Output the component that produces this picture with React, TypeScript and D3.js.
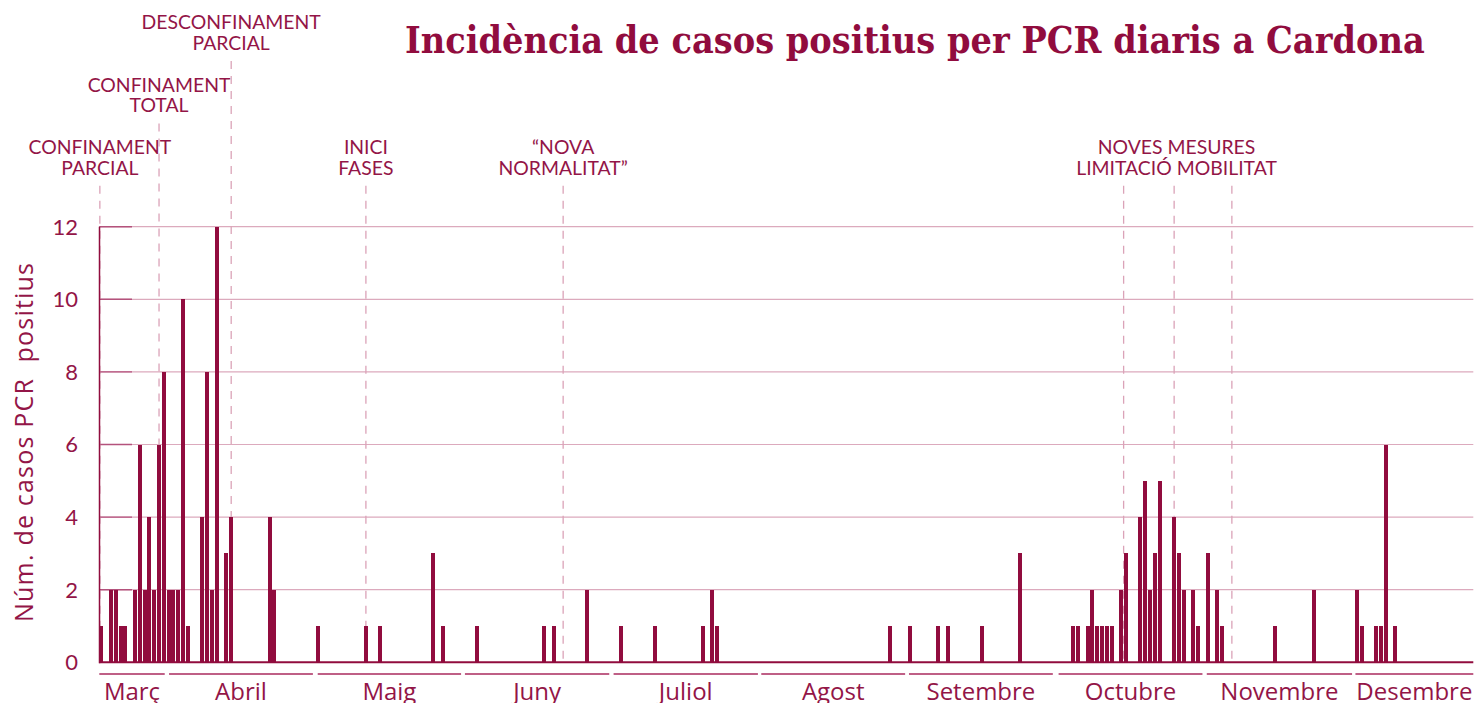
import React from "react";
import * as d3 from "d3";

// Day index (0 = first day of the series) and daily positive PCR cases
const caseDays = [
  0, 2, 3, 4, 5, 7, 8, 9, 10, 11, 12, 13, 14, 15, 16, 17, 18, 21, 22, 23, 24, 26, 27,
  35, 36, 45, 55, 58, 69, 71, 78, 92, 94, 101, 108,
  115, 125, 127, 128, 164, 168, 174, 176, 183, 191,
  202, 203, 205, 206, 207, 208, 209, 210, 212, 213, 216, 217, 218, 219, 220, 223, 224, 225, 227, 228, 230, 232, 233,
  244, 252, 261, 262, 265, 266, 267, 269,
];
const caseValues = [
  1, 2, 2, 1, 1, 2, 6, 2, 4, 2, 6, 8, 2, 2, 2, 10, 1, 4, 8, 2, 12, 3, 4,
  4, 2, 1, 1, 1, 3, 1, 1, 1, 1, 2, 1,
  1, 1, 2, 1, 1, 1, 1, 1, 1, 3,
  1, 1, 1, 2, 1, 1, 1, 1, 2, 3, 4, 5, 2, 3, 5, 4, 3, 2, 2, 1, 3, 2, 1,
  1, 2, 2, 1, 1, 1, 6, 1,
];

const dayDomain = [0, 285.6];

const monthNames = ["Març", "Abril", "Maig", "Juny", "Juliol", "Agost", "Setembre", "Octubre", "Novembre", "Desembre"];
const monthStart = [0, 14.5, 45.4, 76.0, 106.9, 137.6, 168.3, 199.4, 230.2, 261.1];
const monthEnd = [13.6, 44.4, 75.2, 106.0, 136.9, 167.5, 198.2, 229.3, 260.4, 285.6];

const yTicks = [0, 2, 4, 6, 8, 10, 12];

// Events: day of dashed line, label lines, label tier (0 = lowest row)
const eventDays = [-0.3, 12, 27, 55, 96];
const eventLabels = [
  ["CONFINAMENT", "PARCIAL"],
  ["CONFINAMENT", "TOTAL"],
  ["DESCONFINAMENT", "PARCIAL"],
  ["INICI", "FASES"],
  ["“NOVA", "NORMALITAT”"],
];
const eventTiers = [0, 1, 2, 0, 0];
const mesuresDays = [212.5, 223, 235];
const mesuresLabel = ["NOVES MESURES", "LIMITACIÓ MOBILITAT"];

const title = "Incidència de casos positius per PCR diaris a Cardona";
const yLabel = "Núm. de casos PCR  positius";

const DARK = "#910c3e";
const TEXT = "#931547";
const GRID = "#dcaabd";
const TICKDARK = "#b4527c";
const DASH = "#dba3b8";
const MONTHLINE = "#bf5f86";

export default function App() {
  const titleRef = React.useRef<SVGTextElement | null>(null);
  const [titleScale, setTitleScale] = React.useState(1);
  React.useLayoutEffect(() => {
    if (titleRef.current) {
      const w = titleRef.current.getComputedTextLength();
      if (w > 0) setTitleScale(1020 / w);
    }
  }, []);

  const x = d3.scaleLinear().domain(dayDomain).range([99.3, 1473.3]);
  const y = d3.scaleLinear().domain([0, 12]).range([662.3, 226.7]);
  const barW = 4;
  const data = d3.zip(caseDays, caseValues);
  const tierBaseline = [154, 91.7, 29.3];
  const lineGap = 20.7;
  const font = "Lato, 'Open Sans', sans-serif";
  const font2 = "'Open Sans', Lato, sans-serif";
  const annSize = 19.4;
  const mesuresCenter = d3.mean(mesuresDays.map((d) => x(d) + 2)) as number;

  return (
    <svg
      width={1480}
      height={703}
      style={{ position: "absolute", left: 0, top: 0, display: "block", background: "#fff" }}
    >
      <g transform={`translate(405,53) scale(${titleScale},1)`}>
        <text
          ref={titleRef}
          x={0}
          y={0}
          fontFamily="'DejaVu Serif', 'Liberation Serif', serif"
          fontWeight="bold"
          fontSize={38}
          fill={DARK}
        >
          {title}
        </text>
      </g>

      {/* gridlines */}
      {yTicks.filter((t) => t > 0).map((t) => (
        <g key={"g" + t}>
          <line x1={x(0)} x2={x(dayDomain[1])} y1={y(t)} y2={y(t)} stroke={GRID} strokeWidth={1.2} />
          <line x1={x(0)} x2={132} y1={y(t)} y2={y(t)} stroke={TICKDARK} strokeWidth={1.4} />
        </g>
      ))}

      {/* y tick labels */}
      {yTicks.map((t) => (
        <text
          key={"t" + t}
          x={78}
          y={y(t)}
          dy="0.36em"
          textAnchor="end"
          fontFamily={font}
          fontSize={22}
          fill={TEXT}
        >
          {t}
        </text>
      ))}

      <text
        transform={`translate(32.5,442.5) rotate(-90)`}
        textAnchor="middle"
        fontFamily={font2}
        fontSize={25}
        textLength={359}
        lengthAdjust="spacing"
        fill={TEXT}
        style={{ whiteSpace: "pre" }}
      >
        {yLabel}
      </text>

      {/* event dashed lines + labels */}
      {eventDays.map((d, i) => {
        const cx = x(d) + 2;
        const base = tierBaseline[eventTiers[i]];
        const lines = eventLabels[i];
        const last = base + lineGap * (lines.length - 1);
        return (
          <g key={"e" + i}>
            <line
              x1={cx}
              x2={cx}
              y1={last + 11}
              y2={y(0)}
              stroke={DASH}
              strokeWidth={1.3}
              strokeDasharray="8,7"
            />
            {lines.map((s, j) => (
              <text
                key={j}
                x={cx}
                y={base + j * lineGap}
                textAnchor="middle"
                fontFamily={font}
                fontSize={annSize}
                fill={TEXT}
              >
                {s}
              </text>
            ))}
          </g>
        );
      })}
      {mesuresDays.map((d, i) => (
        <line
          key={"m" + i}
          x1={x(d) + 2}
          x2={x(d) + 2}
          y1={tierBaseline[0] + lineGap + 11}
          y2={y(0)}
          stroke={DASH}
          strokeWidth={1.3}
          strokeDasharray="8,7"
        />
      ))}
      {mesuresLabel.map((s, j) => (
        <text
          key={"ml" + j}
          x={mesuresCenter}
          y={tierBaseline[0] + j * lineGap}
          textAnchor="middle"
          fontFamily={font}
          fontSize={annSize}
          fill={TEXT}
        >
          {s}
        </text>
      ))}

      {/* bars */}
      {data.map(([d, v]) => (
        <rect
          key={"b" + d}
          x={Math.round(x(d))}
          y={y(v)}
          width={barW}
          height={y(0) - y(v)}
          fill={DARK}
          shapeRendering="crispEdges"
        />
      ))}

      {/* axes */}
      <line x1={99.5} x2={99.5} y1={y(12)} y2={y(0) + 1} stroke={DARK} strokeWidth={1.5} />
      <line x1={x(0)} x2={x(dayDomain[1])} y1={y(0)} y2={y(0)} stroke={DARK} strokeWidth={2} />

      {/* months */}
      {monthNames.map((m, i) => (
        <g key={"mo" + i}>
          <line
            x1={x(monthStart[i])}
            x2={x(monthEnd[i])}
            y1={674}
            y2={674}
            stroke={MONTHLINE}
            strokeWidth={2}
          />
          <text
            x={(x(monthStart[i]) + x(monthEnd[i])) / 2}
            y={700}
            textAnchor="middle"
            fontFamily={font2}
            fontSize={24}
            fill={TEXT}
          >
            {m}
          </text>
        </g>
      ))}
    </svg>
  );
}
